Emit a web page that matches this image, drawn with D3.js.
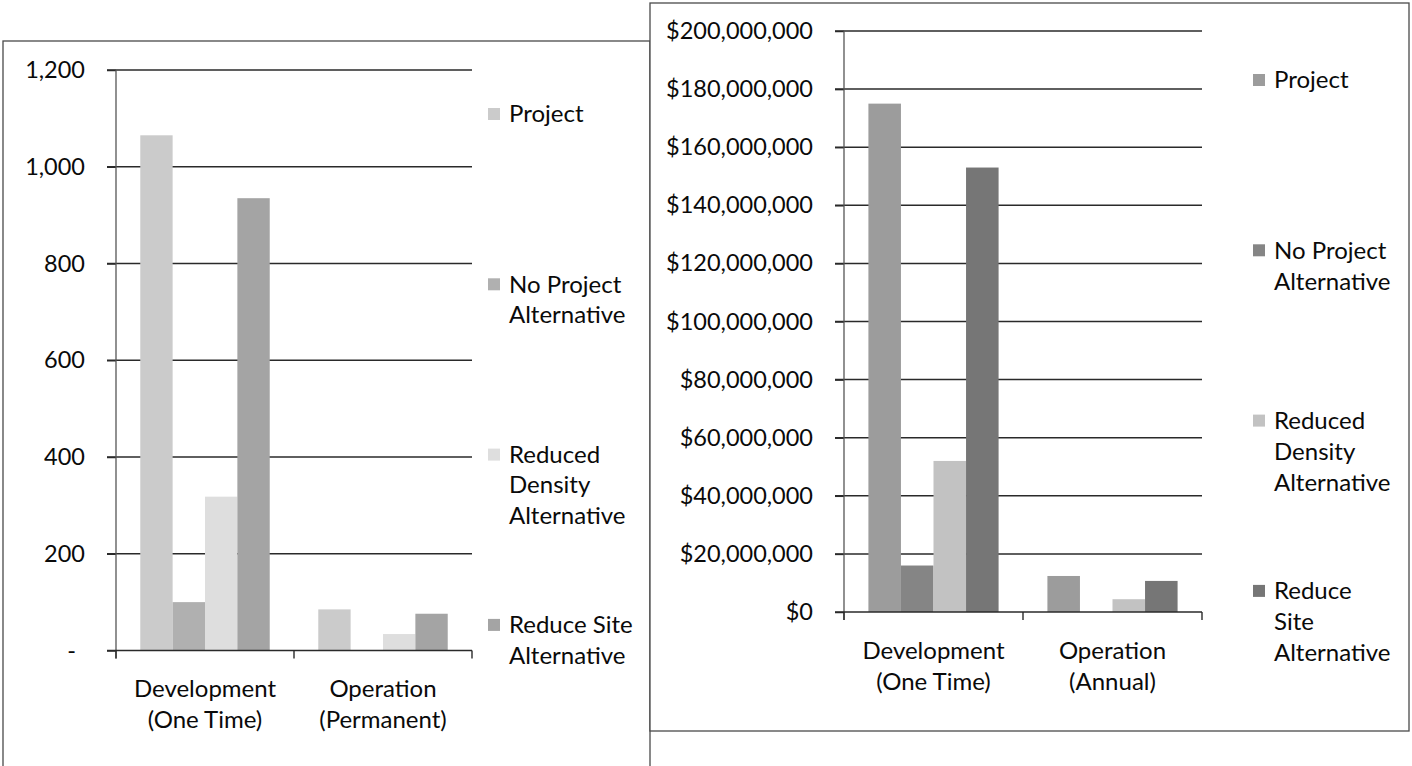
<!DOCTYPE html>
<html>
<head>
<meta charset="utf-8">
<script src="https://cdn.jsdelivr.net/npm/d3@7"></script>
<style>
  html, body { margin: 0; padding: 0; background: #fff; }
  svg { display: block; font-family: Lato, "Open Sans", sans-serif; }
</style>
</head>
<body>
<svg id="chart" width="1412" height="766"></svg>
<script>
// ---- Jobs chart data ----
const seriesKeys = ["Project", "No Project Alternative", "Reduced Density Alternative", "Reduce Site Alternative"];
const jobCategories = ["Development (One Time)", "Operation (Permanent)"];
const jobCategoryLines = [["Development", "(One Time)"], ["Operation", "(Permanent)"]];
const jobProject = [1065, 85];
const jobNoProject = [100, 0];
const jobReducedDensity = [318, 34];
const jobReduceSite = [935, 76];
const jobTicks = [0, 200, 400, 600, 800, 1000, 1200];
const jobLegend = [["Project"], ["No Project", "Alternative"], ["Reduced", "Density", "Alternative"], ["Reduce Site", "Alternative"]];

// ---- Cost chart data ----
const costCategories = ["Development (One Time)", "Operation (Annual)"];
const costCategoryLines = [["Development", "(One Time)"], ["Operation", "(Annual)"]];
const costProject = [175000000, 12400000];
const costNoProject = [16000000, 0];
const costReducedDensity = [52000000, 4400000];
const costReduceSite = [153000000, 10700000];
const costTicks = [0, 20000000, 40000000, 60000000, 80000000, 100000000, 120000000, 140000000, 160000000, 180000000, 200000000];
const costLegend = [["Project"], ["No Project", "Alternative"], ["Reduced", "Density", "Alternative"], ["Reduce", "Site", "Alternative"]];

const svg = d3.select("#chart");
svg.append("rect").attr("width", 1412).attr("height", 766).attr("fill", "#fff");

function drawPanel(cfg) {
  const g = svg.append("g");
  // frame
  g.append("rect")
    .attr("x", cfg.frame[0]).attr("y", cfg.frame[1])
    .attr("width", cfg.frame[2]).attr("height", cfg.frame[3])
    .attr("fill", "#fff").attr("stroke", "#4a4a4a").attr("stroke-width", 1.3);

  const [x0, x1, yTop, yBase] = cfg.plot;
  const y = d3.scaleLinear().domain([0, cfg.max]).range([yBase, yTop]);
  const x = d3.scaleBand().domain(cfg.categories).range([x0, x1]).paddingInner(0).paddingOuter(0);
  const xs = d3.scaleBand().domain(seriesKeys).range([0, x.bandwidth()]).paddingInner(0).paddingOuter(0.75);

  const rows = cfg.categories.map((c, i) => ({ cat: c, values: cfg.series.map(s => s[i]) }));

  // gridlines
  g.append("g").selectAll("line").data(cfg.ticks.filter(t => t > 0)).join("line")
    .attr("x1", x0 - 9).attr("x2", x1)
    .attr("y1", d => y(d)).attr("y2", d => y(d))
    .attr("stroke", "#2a2a2a").attr("stroke-width", 1.5);

  // bars
  g.append("g").selectAll("g").data(rows).join("g")
    .attr("transform", d => `translate(${x(d.cat)},0)`)
    .selectAll("rect").data(d => d.values.map((v, k) => ({ key: seriesKeys[k], v, k }))).join("rect")
    .attr("x", d => xs(d.key)).attr("width", xs.bandwidth())
    .attr("y", d => y(d.v)).attr("height", d => y(0) - y(d.v))
    .attr("fill", d => cfg.colors[d.k]);

  // y axis
  const yAxis = d3.axisLeft(y).tickValues(cfg.ticks).tickSize(9).tickPadding(22).tickFormat(cfg.fmt);
  const ya = g.append("g").attr("transform", `translate(${x0},0)`).call(yAxis);
  ya.select(".domain").remove();
  ya.selectAll(".tick line").attr("stroke", "#2a2a2a").attr("stroke-width", 1.5);
  ya.selectAll(".tick text").attr("fill", "#0a0a0a").attr("font-size", cfg.tickSize)
    .attr("font-family", "Lato, 'Open Sans', sans-serif")
    .attr("dx", d => (d === 0 && cfg.zeroShift) ? cfg.zeroShift : 0);
  g.append("line").attr("x1", x0).attr("x2", x0).attr("y1", yTop).attr("y2", yBase + 8)
    .attr("stroke", "#555").attr("stroke-width", 1.3);

  // x axis
  g.append("line").attr("x1", x0 - 9).attr("x2", x1).attr("y1", yBase).attr("y2", yBase)
    .attr("stroke", "#2a2a2a").attr("stroke-width", 1.7);
  const edges = cfg.categories.map(c => x(c)).concat([x1]);
  g.append("g").selectAll("line").data(edges).join("line")
    .attr("x1", d => d).attr("x2", d => d).attr("y1", yBase).attr("y2", yBase + 8)
    .attr("stroke", "#2a2a2a").attr("stroke-width", 1.4);

  // category labels
  const cl = g.append("g").selectAll("text").data(cfg.categories).join("text")
    .attr("x", c => x(c) + x.bandwidth() / 2).attr("y", cfg.catY)
    .attr("text-anchor", "middle").attr("font-size", cfg.fontSize).attr("fill", "#0a0a0a");
  cl.selectAll("tspan").data((c, i) => cfg.categoryLines[i]).join("tspan")
    .attr("x", function () { return this.parentNode.getAttribute("x"); })
    .attr("dy", (d, i) => i === 0 ? "0.35em" : cfg.lineH)
    .text(d => d);

  // legend
  const lg = g.append("g").selectAll("g").data(cfg.legend).join("g")
    .attr("transform", (d, i) => `translate(${cfg.legendX},${cfg.legendY + i * cfg.legendStep})`);
  lg.append("rect").attr("x", -21).attr("y", -6).attr("width", 12).attr("height", 12)
    .attr("fill", (d, i) => cfg.colors[i]);
  const lt = lg.append("text").attr("font-size", cfg.fontSize).attr("fill", "#0a0a0a");
  lt.selectAll("tspan").data(d => d).join("tspan")
    .attr("x", 0).attr("dy", (d, i) => i === 0 ? "0.35em" : cfg.lineH)
    .text(d => d);
}

// Jobs panel (drawn first, partly covered by the cost panel)
drawPanel({
  frame: [3, 41, 647, 760],
  plot: [116, 472, 70, 650.5],
  max: 1200,
  ticks: jobTicks,
  fmt: d => d === 0 ? "-" : d3.format(",")(d),
  zeroShift: -9,
  categories: jobCategories,
  categoryLines: jobCategoryLines,
  series: [jobProject, jobNoProject, jobReducedDensity, jobReduceSite],
  colors: ["#cbcbcb", "#b0b0b0", "#dedede", "#a4a4a4"],
  legend: jobLegend,
  legendX: 509, legendY: 114, legendStep: 170.3,
  catY: 689, lineH: 30.5,
  fontSize: 24, tickSize: 23.5
});

// Cost panel
drawPanel({
  frame: [650, 3, 759, 728],
  plot: [844, 1202, 31, 612],
  max: 200000000,
  ticks: costTicks,
  fmt: d3.format("$,"),
  zeroShift: 0,
  categories: costCategories,
  categoryLines: costCategoryLines,
  series: [costProject, costNoProject, costReducedDensity, costReduceSite],
  colors: ["#9c9c9c", "#858585", "#c2c2c2", "#767676"],
  legend: costLegend,
  legendX: 1274, legendY: 80, legendStep: 170.3,
  catY: 651, lineH: 31,
  fontSize: 24, tickSize: 23.5
});
</script>
</body>
</html>
